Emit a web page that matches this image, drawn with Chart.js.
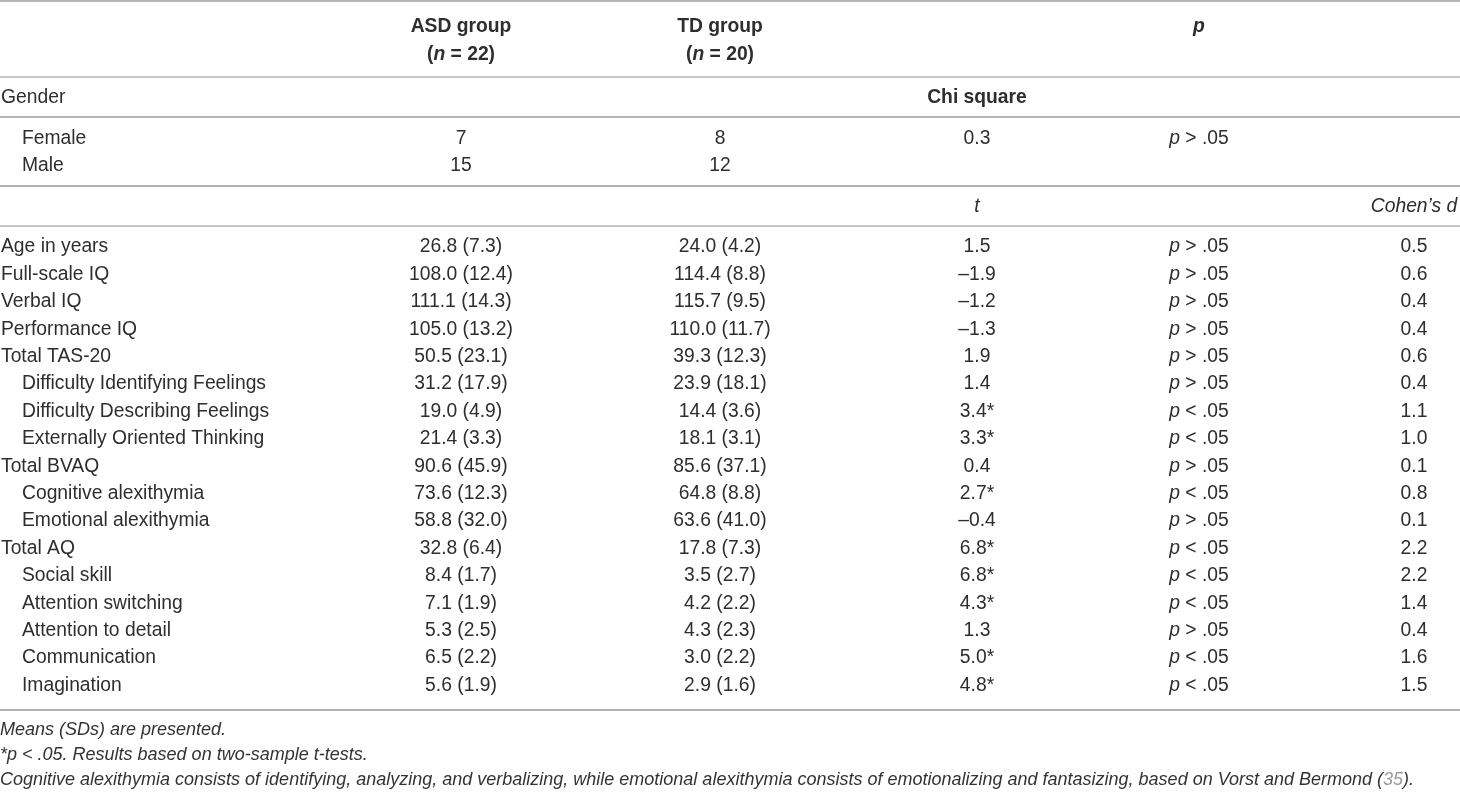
<!DOCTYPE html>
<html>
<head>
<meta charset="utf-8">
<script src="https://cdn.jsdelivr.net/npm/chart.js@4.4.1/dist/chart.umd.min.js"></script>
<style>
    html, body { margin: 0; background: #fff; }
    #wrap { position: relative; width: 1460px; height: 792px; }
    #notes {
        position: absolute; left: 0; top: 717px;
        font: italic 18px "Liberation Sans", Arial, sans-serif;
        line-height: 25px; color: #333; white-space: nowrap;
    }
    #notes .ref { color: #9a9a9a; }
</style>
</head>
<body>
<div id="wrap">
    <canvas id="chart"></canvas>
    <div id="notes">
        <div>Means (SDs) are presented.</div>
        <div>*p &lt; .05. Results based on two-sample t-tests.</div>
        <div>Cognitive alexithymia consists of identifying, analyzing, and verbalizing, while emotional alexithymia consists of emotionalizing and fantasizing, based on Vorst and Bermond (<span class="ref">35</span>).</div>
    </div>
</div>
<script>
const groups = ['ASD group', 'TD group']
const groupN = [22, 20]

const genderCats = ['Female', 'Male']
const genderASD = [7, 15]
const genderTD = [8, 12]
const chiSquare = 0.3
const chiSign = '>'

const measures = [
    'Age in years', 'Full-scale IQ', 'Verbal IQ', 'Performance IQ', 'Total TAS-20',
    'Difficulty Identifying Feelings', 'Difficulty Describing Feelings', 'Externally Oriented Thinking',
    'Total BVAQ', 'Cognitive alexithymia', 'Emotional alexithymia',
    'Total AQ', 'Social skill', 'Attention switching', 'Attention to detail', 'Communication', 'Imagination'
]
const subscale = [0, 0, 0, 0, 0, 1, 1, 1, 0, 1, 1, 0, 1, 1, 1, 1, 1]
const asdMean = [26.8, 108.0, 111.1, 105.0, 50.5, 31.2, 19.0, 21.4, 90.6, 73.6, 58.8, 32.8, 8.4, 7.1, 5.3, 6.5, 5.6]
const asdSD   = [7.3, 12.4, 14.3, 13.2, 23.1, 17.9, 4.9, 3.3, 45.9, 12.3, 32.0, 6.4, 1.7, 1.9, 2.5, 2.2, 1.9]
const tdMean  = [24.0, 114.4, 115.7, 110.0, 39.3, 23.9, 14.4, 18.1, 85.6, 64.8, 63.6, 17.8, 3.5, 4.2, 4.3, 3.0, 2.9]
const tdSD    = [4.2, 8.8, 9.5, 11.7, 12.3, 18.1, 3.6, 3.1, 37.1, 8.8, 41.0, 7.3, 2.7, 2.2, 2.3, 2.2, 1.6]
const tValues = [1.5, -1.9, -1.2, -1.3, 1.9, 1.4, 3.4, 3.3, 0.4, 2.7, -0.4, 6.8, 6.8, 4.3, 1.3, 5.0, 4.8]
const pSign   = ['>', '>', '>', '>', '>', '>', '<', '<', '>', '<', '>', '<', '<', '<', '>', '<', '<']
const cohensD = [0.5, 0.6, 0.4, 0.4, 0.6, 0.4, 1.1, 1.0, 0.1, 0.8, 0.1, 2.2, 2.2, 1.4, 0.4, 1.6, 1.5]

// ---- layout (x in canvas units, y in body-row units) ----
const COL = { label: 1, indent: 22, asd: 461, td: 720, stat: 977, p: 1199, d: 1414 }
const ROW = { head1: -8.03, head2: -7.01, gender: -5.44, female: -3.94, male: -2.96, tHead: -1.46 }
const RULES = [[-8.98, 2], [-6.2, 1.4], [-4.74, 2], [-2.23, 2], [-0.77, 1.4], [16.9, 2]]
const FONT_SIZE = 19.3
const FAMILY = '"Liberation Sans", Arial, sans-serif'
const TEXT_COLOR = '#2e2e2e'
const RULE_COLOR = '#b4b4b4'

const fmt = v => v.toFixed(1).replace('-', '\u2013')
const fonts = {
    n: `${FONT_SIZE}px ${FAMILY}`,
    b: `bold ${FONT_SIZE}px ${FAMILY}`,
    i: `italic ${FONT_SIZE}px ${FAMILY}`,
    bi: `italic bold ${FONT_SIZE}px ${FAMILY}`
}

function cellSet(label, points, cells, align) {
    return { label: label, data: points, cells: cells, align: align || 'center', pointRadius: 0, showLine: false }
}

const datasets = [
    cellSet('header', [
        { x: COL.asd, y: ROW.head1 }, { x: COL.asd, y: ROW.head2 },
        { x: COL.td, y: ROW.head1 }, { x: COL.td, y: ROW.head2 },
        { x: COL.p, y: ROW.head1 }
    ], [
        [[groups[0], 'b']], [['(', 'b'], ['n', 'bi'], [' = ' + groupN[0] + ')', 'b']],
        [[groups[1], 'b']], [['(', 'b'], ['n', 'bi'], [' = ' + groupN[1] + ')', 'b']],
        [['p', 'bi']]
    ]),
    cellSet('sections', [{ x: COL.label, y: ROW.gender }], [[['Gender', 'n']]], 'left'),
    cellSet('statHeads', [
        { x: COL.stat, y: ROW.gender }, { x: COL.stat, y: ROW.tHead }, { x: COL.d, y: ROW.tHead }
    ], [[['Chi square', 'b']], [['t', 'i']], [['Cohen\u2019s d', 'i']]]),
    cellSet('genderLabels', genderCats.map((c, i) => ({ x: COL.indent, y: i ? ROW.male : ROW.female })),
        genderCats.map(c => [[c, 'n']]), 'left'),
    cellSet('genderASD', genderASD.map((v, i) => ({ x: COL.asd, y: i ? ROW.male : ROW.female })),
        genderASD.map(v => [[String(v), 'n']])),
    cellSet('genderTD', genderTD.map((v, i) => ({ x: COL.td, y: i ? ROW.male : ROW.female })),
        genderTD.map(v => [[String(v), 'n']])),
    cellSet('chi', [{ x: COL.stat, y: ROW.female }, { x: COL.p, y: ROW.female }],
        [[[String(chiSquare), 'n']], [['p', 'i'], [' ' + chiSign + ' .05', 'n']]]),
    cellSet('measures', measures.map((m, i) => ({ x: subscale[i] ? COL.indent : COL.label, y: i })),
        measures.map(m => [[m, 'n']]), 'left'),
    cellSet('ASD', asdMean.map((v, i) => ({ x: COL.asd, y: i })),
        asdMean.map((v, i) => [[fmt(v) + ' (' + fmt(asdSD[i]) + ')', 'n']])),
    cellSet('TD', tdMean.map((v, i) => ({ x: COL.td, y: i })),
        tdMean.map((v, i) => [[fmt(v) + ' (' + fmt(tdSD[i]) + ')', 'n']])),
    cellSet('t', tValues.map((v, i) => ({ x: COL.stat, y: i })),
        tValues.map((v, i) => [[fmt(v) + (pSign[i] === '<' ? '*' : ''), 'n']])),
    cellSet('p', pSign.map((s, i) => ({ x: COL.p, y: i })),
        pSign.map(s => [['p', 'i'], [' ' + s + ' .05', 'n']])),
    cellSet('d', cohensD.map((v, i) => ({ x: COL.d, y: i })),
        cohensD.map(v => [[fmt(v), 'n']]))
]

function drawRuns(ctx, runs, x, y, align) {
    let total = 0
    runs.forEach(r => { ctx.font = fonts[r[1]]; total += ctx.measureText(r[0]).width })
    let cx = align === 'left' ? x : x - total / 2
    runs.forEach(r => {
        ctx.font = fonts[r[1]]
        ctx.fillText(r[0], cx, y)
        cx += ctx.measureText(r[0]).width
    })
}

const tablePlugin = {
    id: 'tableText',
    afterDatasetsDraw(chart) {
        const { ctx, scales: { x, y } } = chart
        ctx.save()
        ctx.strokeStyle = RULE_COLOR
        RULES.forEach(([r, w]) => {
            const py = Math.round(y.getPixelForValue(r))
            ctx.lineWidth = w
            ctx.beginPath()
            ctx.moveTo(x.left, py)
            ctx.lineTo(x.right, py)
            ctx.stroke()
        })
        ctx.fillStyle = TEXT_COLOR
        ctx.textBaseline = 'middle'
        ctx.textAlign = 'left'
        chart.data.datasets.forEach((ds, di) => {
            chart.getDatasetMeta(di).data.forEach((pt, i) => {
                drawRuns(ctx, ds.cells[i], pt.x, pt.y, ds.align)
            })
        })
        ctx.restore()
    }
}

window.onload = () => {
    const ctx = document.getElementById('chart')
    new Chart(ctx, {
        type: 'scatter',
        data: { datasets: datasets },
        options: {
            responsive: true,
            maintainAspectRatio: false,
            animation: false,
            layout: { padding: 0 },
            scales: {
                x: { type: 'linear', min: 0, max: 1460, display: false },
                y: { type: 'linear', min: -9.015, max: 19.89, reverse: true, display: false }
            },
            plugins: {
                legend: { display: false },
                tooltip: { enabled: false }
            },
            events: []
        },
        plugins: [tablePlugin]
    })
}
</script>
</body>
</html>
